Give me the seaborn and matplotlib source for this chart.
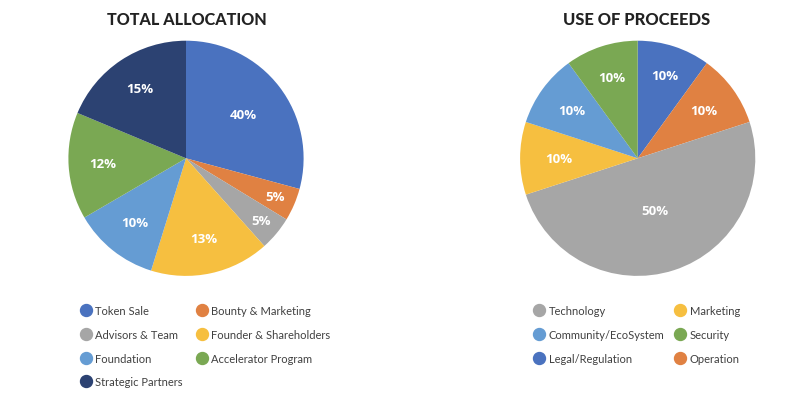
import numpy as np
import matplotlib
matplotlib.use("Agg")
import matplotlib.pyplot as plt
from matplotlib.lines import Line2D
import seaborn as sns

sns.set_theme(style="white")
plt.rcParams['font.family'] = ['Lato', 'DejaVu Sans']

# ---- data ----
alloc_categories = ["Token Sale", "Bounty & Marketing", "Advisors & Team",
                    "Founder & Shareholders", "Foundation", "Accelerator Program",
                    "Strategic Partners"]
alloc_labels = ["40%", "5%", "5%", "13%", "10%", "12%", "15%"]
# slice sizes as drawn in the picture
alloc_sizes = [29.2, 4.5, 4.7, 16.4, 11.8, 14.7, 18.7]
alloc_colors = ["#4A72BF", "#E08142", "#A6A6A6", "#F6BF40", "#659CD3", "#7AA853", "#2C4272"]

proc_categories = ["Legal/Regulation", "Operation", "Technology", "Marketing",
                   "Community/EcoSystem", "Security"]
proc_sizes = [10, 10, 50, 10, 10, 10]
proc_labels = ["10%", "10%", "50%", "10%", "10%", "10%"]
proc_colors = ["#4A72BF", "#E08142", "#A6A6A6", "#F6BF40", "#659CD3", "#7AA853"]

# legend order (row-major as shown)
alloc_legend_order = ["Token Sale", "Bounty & Marketing", "Advisors & Team",
                      "Founder & Shareholders", "Foundation", "Accelerator Program",
                      "Strategic Partners"]
proc_legend_order = ["Technology", "Marketing", "Community/EcoSystem", "Security",
                     "Legal/Regulation", "Operation"]

alloc_label_dist = [0.61, 0.82, 0.83, 0.70, 0.70, 0.71, 0.71]
proc_label_dist = [0.74, 0.69, 0.47, 0.67, 0.69, 0.72]

W, H = 800, 410
fig = plt.figure(figsize=(8, 4.1), dpi=100)
fig.patch.set_facecolor("white")


def pie_axes(cx, cy, r):
    return fig.add_axes([(cx - r) / W, (H - cy - r) / H, 2 * r / W, 2 * r / H])


def draw_pie(ax, sizes, colors, labels, dists):
    wedges, _ = ax.pie(sizes, colors=colors, startangle=90, counterclock=False,
                       radius=1.0, wedgeprops=dict(linewidth=0))
    for w, lab, d in zip(wedges, labels, dists):
        ang = np.deg2rad((w.theta1 + w.theta2) / 2)
        ax.text(d * np.cos(ang), d * np.sin(ang), lab, ha="center", va="center",
                color="white", fontsize=9.5, fontweight="bold",
                family=["Open Sans", "DejaVu Sans"])
    ax.set_xlim(-1, 1)
    ax.set_ylim(-1, 1)
    ax.set_aspect("equal")
    ax.axis("off")


def make_legend(order, cats, colors, x, y, colspacing):
    cmap = dict(zip(cats, colors))
    ncol = 2
    rows = int(np.ceil(len(order) / ncol))
    grid = [[None] * ncol for _ in range(rows)]
    for i, name in enumerate(order):
        grid[i // ncol][i % ncol] = name
    col_major = [grid[r][c] for c in range(ncol) for r in range(rows) if grid[r][c]]
    handles = [Line2D([], [], marker="o", ls="", markersize=8.6,
                      markerfacecolor=cmap[n], markeredgecolor=cmap[n]) for n in col_major]
    leg = fig.legend(handles, col_major, loc="upper left",
                     bbox_to_anchor=(x / W, 1 - y / H), ncol=ncol, frameon=False,
                     fontsize=8, handlelength=1.1, handletextpad=0.3,
                     labelspacing=1.15, columnspacing=colspacing, borderpad=0,
                     borderaxespad=0)
    for t in leg.get_texts():
        t.set_color("#404040")
    return leg


ax1 = pie_axes(186, 159.3, 117.6)
draw_pie(ax1, alloc_sizes, alloc_colors, alloc_labels, alloc_label_dist)
ax2 = pie_axes(637.7, 159.3, 117.6)
draw_pie(ax2, proc_sizes, proc_colors, proc_labels, proc_label_dist)

fig.text(187 / W, 1 - 20 / H, "TOTAL ALLOCATION", ha="center", va="center",
         fontsize=11.6, fontweight="black", family=["Lato", "DejaVu Sans"], color="#222222")
fig.text(637 / W, 1 - 20 / H, "USE OF PROCEEDS", ha="center", va="center",
         fontsize=11.9, fontweight="black", family=["Lato", "DejaVu Sans"], color="#222222")

make_legend(alloc_legend_order, alloc_categories, alloc_colors, 79.5, 306, 1.2)
make_legend(proc_legend_order, proc_categories, proc_colors, 533, 306, 0.9)

fig.savefig("out.png", dpi=100, facecolor="white")
